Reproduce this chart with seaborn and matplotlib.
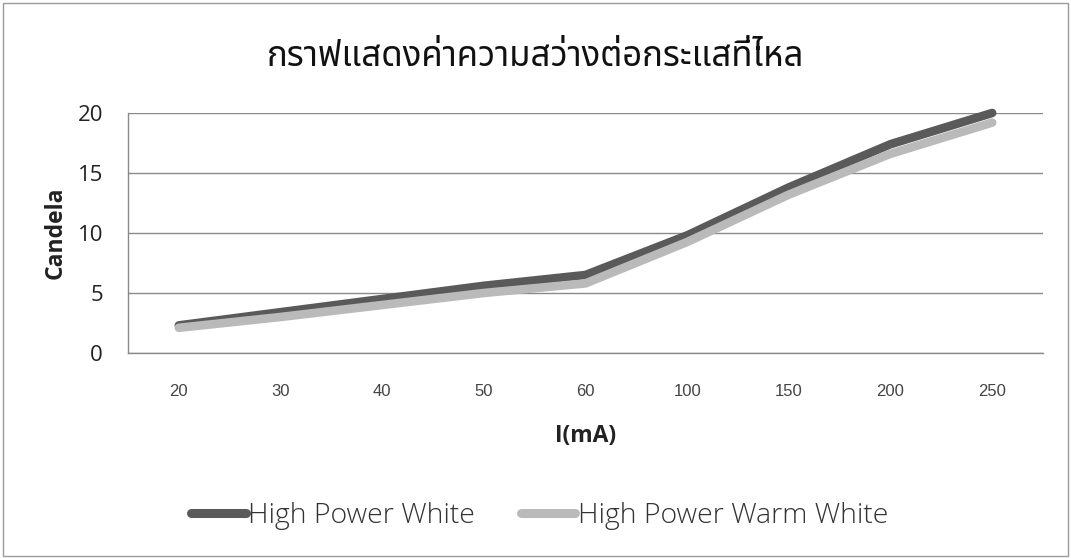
import matplotlib
matplotlib.use("Agg")
import matplotlib.pyplot as plt
from matplotlib.patches import Rectangle
import seaborn as sns
import pandas as pd

# ---- data ----
currents = ["20", "30", "40", "50", "60", "100", "150", "200", "250"]
high_power_white = [2.3, 3.4, 4.5, 5.6, 6.5, 9.8, 13.8, 17.4, 20.0]
high_power_warm_white = [2.1, 3.0, 4.0, 5.0, 5.8, 9.25, 13.2, 16.6, 19.2]
series_names = ["High Power White", "High Power Warm White"]
y_ticks = [0, 5, 10, 15, 20]
title = "กราฟแสดงค่าความสว่างต่อกระแสที่ไหล"

df = pd.DataFrame({
    "I(mA)": currents * 2,
    "Candela": high_power_white + high_power_warm_white,
    "series": [series_names[0]] * len(currents) + [series_names[1]] * len(currents),
})

sns.set_theme(style="white")
plt.rcParams["font.family"] = ["Open Sans", "DejaVu Sans"]

fig = plt.figure(figsize=(10.71, 5.58), dpi=100)
ax = fig.add_axes([128 / 1071, 1 - 353 / 558, (1043 - 128) / 1071, (353 - 113) / 558])

palette = {series_names[0]: "#5a5a5a", series_names[1]: "#bababa"}
sns.lineplot(data=df, x="I(mA)", y="Candela", hue="series", palette=palette,
             hue_order=series_names, sort=False, linewidth=6.2, ax=ax, legend=True)
for ln in ax.lines:
    ln.set_solid_capstyle("round")
    ln.set_solid_joinstyle("round")
    ln.set_clip_on(False)
# later series (warm white) drawn on top, as in the reference
if len(ax.lines) >= 2:
    ax.lines[0].set_zorder(3)
    ax.lines[1].set_zorder(4)

ax.set_xlim(-0.5, len(currents) - 0.5)
ax.set_ylim(0, 20)
ax.set_yticks(y_ticks)
ax.yaxis.grid(True, color="#8a8a8a", linewidth=1.0)
ax.xaxis.grid(False)
ax.set_axisbelow(True)
for s in ["top", "right"]:
    ax.spines[s].set_visible(False)
ax.spines["left"].set_color("#8a8a8a")
ax.spines["left"].set_linewidth(1.0)
ax.spines["bottom"].set_color("#8a8a8a")
ax.spines["bottom"].set_linewidth(1.0)
ax.tick_params(axis="both", length=0)
ax.tick_params(axis="y", labelsize=16, pad=18, labelcolor="#222222")
ax.tick_params(axis="x", labelsize=12, pad=22, labelcolor="#444444")
for lab in ax.get_xticklabels():
    lab.set_fontfamily(["Liberation Sans", "DejaVu Sans"])

ax.set_xlabel("I(mA)", fontsize=16.5, fontweight="bold", color="#222222", labelpad=18,
              family=["Open Sans", "DejaVu Sans"])
ax.set_ylabel("Candela", fontsize=16.5, fontweight="bold", color="#222222", labelpad=7,
              family=["Open Sans", "DejaVu Sans"])

fig.text(0.5, 1 - 57 / 558, title, ha="center", va="center", fontsize=25,
         family=["Noto Sans Thai", "DejaVu Sans"], color="#111111")

handles, labels = ax.get_legend_handles_labels()
ax.get_legend().remove()
leg = fig.legend(handles, labels, loc="center", bbox_to_anchor=(0.504, 1 - 516 / 558),
                 ncol=2, frameon=False, handlelength=1.9, handletextpad=0.1,
                 columnspacing=1.6, prop={"family": ["Open Sans", "DejaVu Sans"],
                                          "size": 20.5, "weight": "light"})
for h in leg.legend_handles:
    h.set_linewidth(6.5)
    h.set_solid_capstyle("round")
for t in leg.get_texts():
    t.set_color("#333333")

fig.patches.append(Rectangle((0.003, 0.004), 0.994, 0.99, transform=fig.transFigure,
                             fill=False, edgecolor="#9a9a9a", linewidth=1.0))

fig.savefig("out.png", dpi=100, facecolor="white")
